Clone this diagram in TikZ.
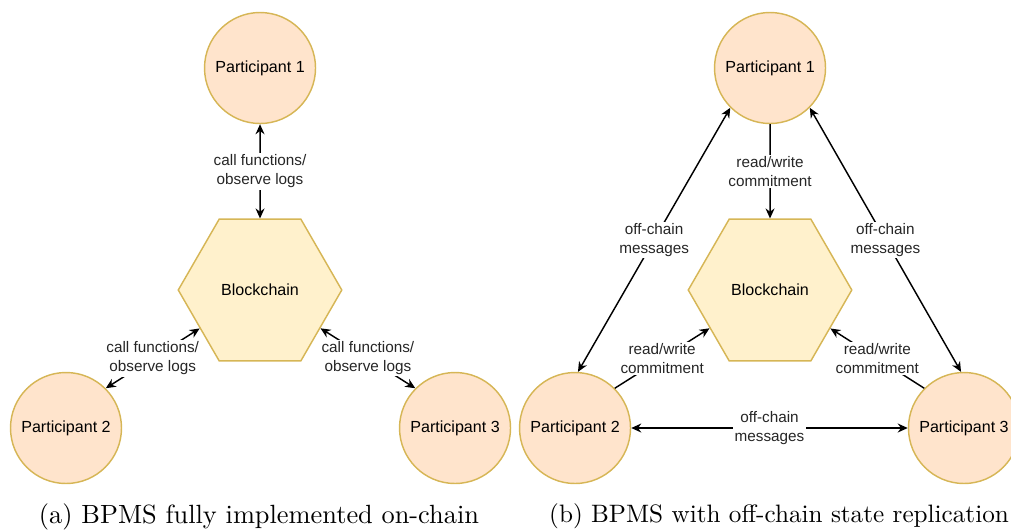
\documentclass[tikz,border=0pt]{standalone}
\usepackage{amsmath}
\usepackage{amssymb}
\usepackage{fontspec}
\newfontfamily\drawiofont{Liberation Sans}
\usetikzlibrary{arrows.meta,shapes.geometric}

\begin{document}
\begin{tikzpicture}[
  party/.style={circle, draw=goldline, fill=peachfill, line width=0.55pt, minimum size=1.48cm, inner sep=0pt, font=\drawiofont\fontsize{6.1}{7.3}\selectfont},
  chain/.style={regular polygon, regular polygon sides=6, draw=goldline, fill=sandfill, line width=0.55pt, minimum size=2.18cm, inner sep=0pt, font=\drawiofont\fontsize{6.1}{7.3}\selectfont},
  msg/.style={fill=white, inner sep=0.6pt, align=center, text=black!85, font=\drawiofont\fontsize{5.8}{7.2}\selectfont},
  link/.style={line width=0.55pt, -{Stealth[length=3.8pt,width=3.4pt]}},
  dlink/.style={line width=0.55pt, {Stealth[length=3.8pt,width=3.4pt]}-{Stealth[length=3.8pt,width=3.4pt]}},
]
\definecolor{peachfill}{RGB}{255,228,204}
\definecolor{sandfill}{RGB}{255,241,204}
\definecolor{goldline}{RGB}{214,182,86}
\useasboundingbox (0, 0) rectangle (13.48, 7.067);

% (a) on-chain
\node[party] (p1a) at (3.467, 6.160) {Participant 1}; % P1.a
\node[chain] (bcA) at (3.467, 3.200) {Blockchain}; % Chain.a
\node[party] (p2a) at (0.880, 1.360) {Participant 2}; % P2.a
\node[party] (p3a) at (6.067, 1.360) {Participant 3}; % P3.a
\draw[dlink] (p1a) -- node[msg] (m1a) {call functions/\\observe logs} (bcA);
\draw[dlink] (bcA) -- node[msg] (m2a) {call functions/\\observe logs} (p2a.45);
\draw[dlink] (bcA) -- node[msg] (m3a) {call functions/\\observe logs} (p3a.135);
\node (capA) at (3.453, 0.18) {(a) BPMS fully implemented on-chain};

% (b) off-chain replication
\node[party] (p1b) at (10.267, 6.160) {Participant 1}; % P1.b
\node[chain] (bcB) at (10.267, 3.200) {Blockchain}; % Chain.b
\node[party] (p2b) at (7.667, 1.360) {Participant 2}; % P2.b
\node[party] (p3b) at (12.853, 1.360) {Participant 3}; % P3.b
\draw[link] (p1b) -- node[msg] (m1b) {read/write\\commitment} (bcB);
\draw[link] (p2b.45) -- node[msg] (m2b) {read/write\\commitment} (bcB);
\draw[link] (p3b.135) -- node[msg] (m3b) {read/write\\commitment} (bcB);
\draw[dlink] (p1b.225) -- node[msg] (m4b) {off-chain\\messages} (p2b.87);
\draw[dlink] (p1b.315) -- node[msg] (m5b) {off-chain\\messages} (p3b.93);
\draw[dlink] (p2b) -- node[msg] (m6b) {off-chain\\messages} (p3b);
\node[font=\fontsize{9.55}{11.5}\selectfont] (capB) at (10.387, 0.18) {(b) BPMS with off-chain state replication};
\end{tikzpicture}
\end{document}
